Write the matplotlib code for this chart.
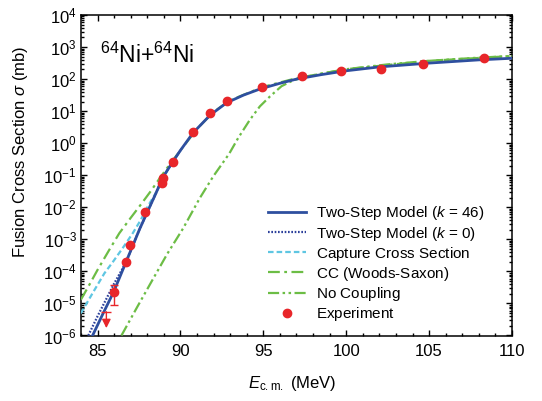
import numpy as np
import matplotlib
matplotlib.use("Agg")
import matplotlib.pyplot as plt
from matplotlib.ticker import LogLocator, MultipleLocator, NullFormatter

plt.rcParams['font.family'] = ['Liberation Sans', 'DejaVu Sans']
plt.rcParams['mathtext.fontset'] = 'custom'
plt.rcParams['mathtext.rm'] = 'Liberation Sans'
plt.rcParams['mathtext.it'] = 'Liberation Sans:italic'
plt.rcParams['mathtext.bf'] = 'Liberation Sans:bold'
plt.rcParams['axes.unicode_minus'] = False
plt.rcParams['lines.scale_dashes'] = False

# ---- data (E in MeV, sigma in mb) ----
E_ts46 = [84.70, 85.30, 85.97, 86.80, 87.52, 88.00, 88.50, 88.93, 89.55, 90.00, 90.76,
          91.80, 92.78, 93.80, 94.79, 96.00, 97.00, 98.50, 100.0, 102.0, 105.0, 108.0, 110.0]
S_ts46 = [1.0e-6, 4.5e-6, 2.3e-5, 2.5e-4, 2.0e-3, 7.1e-3, 2.6e-2, 8.5e-2, 0.27, 0.60, 2.1,
          7.6, 18.2, 31.6, 49.0, 74.0, 100, 138, 182, 240, 316, 398, 447]

E_ts0 = [84.44, 85.00, 85.50, 86.00, 86.50, 86.80, 87.52, 88.00, 88.50, 88.93, 89.55, 90.00]
S_ts0 = [1.0e-6, 4.0e-6, 1.3e-5, 4.2e-5, 1.2e-4, 2.5e-4, 2.0e-3, 7.1e-3, 2.6e-2, 8.5e-2, 0.27, 0.60]

E_cap = [83.99, 84.70, 85.41, 85.93, 86.50, 87.12, 87.60, 88.04, 88.60, 89.20, 90.00]
S_cap = [4.9e-6, 2.1e-5, 8.7e-5, 2.0e-4, 5.2e-4, 1.55e-3, 4.0e-3, 1.1e-2, 3.3e-2, 0.14, 0.60]

E_cc = [83.99, 84.50, 85.00, 85.65, 86.31, 87.00, 87.60, 88.19, 88.75, 89.30, 90.00,
        91.0, 92.0, 93.0, 95.0, 97.0, 100.0, 105.0, 110.0]
S_cc = [1.3e-5, 3.8e-5, 1.12e-4, 4.2e-4, 1.55e-3, 4.7e-3, 1.2e-2, 3.1e-2, 8.1e-2, 0.20, 0.60,
        2.8, 9.5, 21.9, 57.5, 107, 204, 372, 525]

E_nc = [86.44, 87.40, 88.31, 89.20, 90.16, 91.17, 91.97, 92.94, 93.48, 94.19, 94.79,
        95.40, 96.10, 96.80, 97.50, 98.5, 100.0, 102.5, 105.0, 108.0, 110.0]
S_nc = [1.0e-6, 7.9e-6, 5.4e-5, 3.5e-4, 2.2e-3, 1.95e-2, 9.1e-2, 0.47, 1.45, 5.4, 14.1,
        28.8, 60.3, 91.2, 115, 148, 204, 288, 372, 468, 525]

exp_E = [85.99, 86.69, 86.95, 87.89, 88.93, 88.89, 89.57, 90.76, 91.81, 92.82,
         94.91, 97.35, 99.67, 102.12, 104.66, 108.33]
exp_S = [2.3e-5, 1.9e-4, 6.9e-4, 7.1e-3, 0.085, 0.058, 0.26, 2.2, 8.7, 20.4,
         57, 129, 174, 209, 299, 457]
err_E = [85.99]
err_S = [2.3e-5]
err_lo = [8.9e-6]
err_hi = [3.8e-5]
ul_E = [85.53]
ul_S = [5.5e-6]
ul_tip = [1.7e-6]

xticks = [85, 90, 95, 100, 105, 110]

labels = ['Two-Step Model ($k$ = 46)', 'Two-Step Model ($k$ = 0)', r'Capture Cross Section$\,$',
          r'CC (Woods-Saxon)$\,$', r'No Coupling$\,$', r'Experiment$\,$']

# ---- colours ----
c_blue = '#2e4f9f'
c_dot = '#2b3f9a'
c_cyan = '#5ec6e2'
c_green = '#6cbd45'
c_red = '#e8262a'

fig = plt.figure(figsize=(5.42, 4.01), dpi=100)
ax = fig.add_axes([81/542, 1-335.5/401, 431/542, 320.5/401])

h_ts0, = ax.plot(E_ts0, S_ts0, color=c_dot, lw=1.6, ls=(0, (1.2, 1.2)), zorder=3)
h_cap, = ax.plot(E_cap, S_cap, color=c_cyan, lw=1.6, ls=(0, (4, 2.2)), zorder=3)
h_ts46, = ax.plot(E_ts46, S_ts46, color=c_blue, lw=2.0, zorder=4)
h_cc, = ax.plot(E_cc, S_cc, color=c_green, lw=1.6, ls=(0, (8.5, 3.2, 2, 3.2)), zorder=3.5)
h_nc, = ax.plot(E_nc, S_nc, color=c_green, lw=1.6, ls=(0, (8, 2.5, 1.8, 2.5, 1.8, 2.5)), zorder=3.5)

ax.errorbar(err_E, err_S, yerr=[np.array(err_S) - np.array(err_lo), np.array(err_hi) - np.array(err_S)],
            fmt='none', ecolor=c_red, elinewidth=1.0, capsize=3, capthick=1.0, zorder=5)
h_exp, = ax.plot(exp_E, exp_S, 'o', color=c_red, ms=6, mec=c_red, zorder=6)
for e, s, t in zip(ul_E, ul_S, ul_tip):
    ax.plot([e], [s], marker='_', color=c_red, ms=7, mew=1.0, zorder=5)
    ax.annotate('', xy=(e, t), xytext=(e, s),
                arrowprops=dict(arrowstyle='-|>', color=c_red, lw=1.0, mutation_scale=13,
                                shrinkA=0, shrinkB=0), zorder=5)

ax.set_yscale('log')
ax.set_xlim(84, 110)
ax.set_ylim(1e-6, 1e4)
ax.set_xticks(xticks)
ax.set_xticklabels([str(t) for t in xticks])
ax.xaxis.set_minor_locator(MultipleLocator(1))
ax.yaxis.set_major_locator(LogLocator(base=10, numticks=20))
ax.yaxis.set_minor_locator(LogLocator(base=10, subs=np.arange(2, 10), numticks=20))
ax.yaxis.set_minor_formatter(NullFormatter())

ax.tick_params(which='both', direction='in', top=True, right=True, labelsize=12, width=1.0)
ax.tick_params(which='major', length=4.5)
ax.tick_params(which='minor', length=2.5)
ax.tick_params(axis='x', pad=6)
ax.tick_params(axis='y', pad=3)
for sp in ax.spines.values():
    sp.set_linewidth(1.1)

ax.set_xlabel(r'$E_{\mathrm{c.m.}}$ (MeV)', fontsize=12)
ax.xaxis.set_label_coords(0.49, -0.12)
ax.set_ylabel(r'Fusion Cross Section $\sigma$ (mb)', fontsize=12)
ax.yaxis.set_label_coords(-0.118, 0.574)

ax.text(0.044, 0.85, r'$^{64}$Ni+$^{64}$Ni', transform=ax.transAxes, fontsize=16.5, va='baseline', ha='left')

ax.legend([h_ts46, h_ts0, h_cap, h_cc, h_nc, h_exp], labels, loc='upper left', bbox_to_anchor=(0.434, 0.409),
          frameon=False, fontsize=11, borderaxespad=0, borderpad=0, handlelength=2.5,
          handletextpad=0.65, labelspacing=0.14, numpoints=1)

fig.savefig('out.png', dpi=100)
